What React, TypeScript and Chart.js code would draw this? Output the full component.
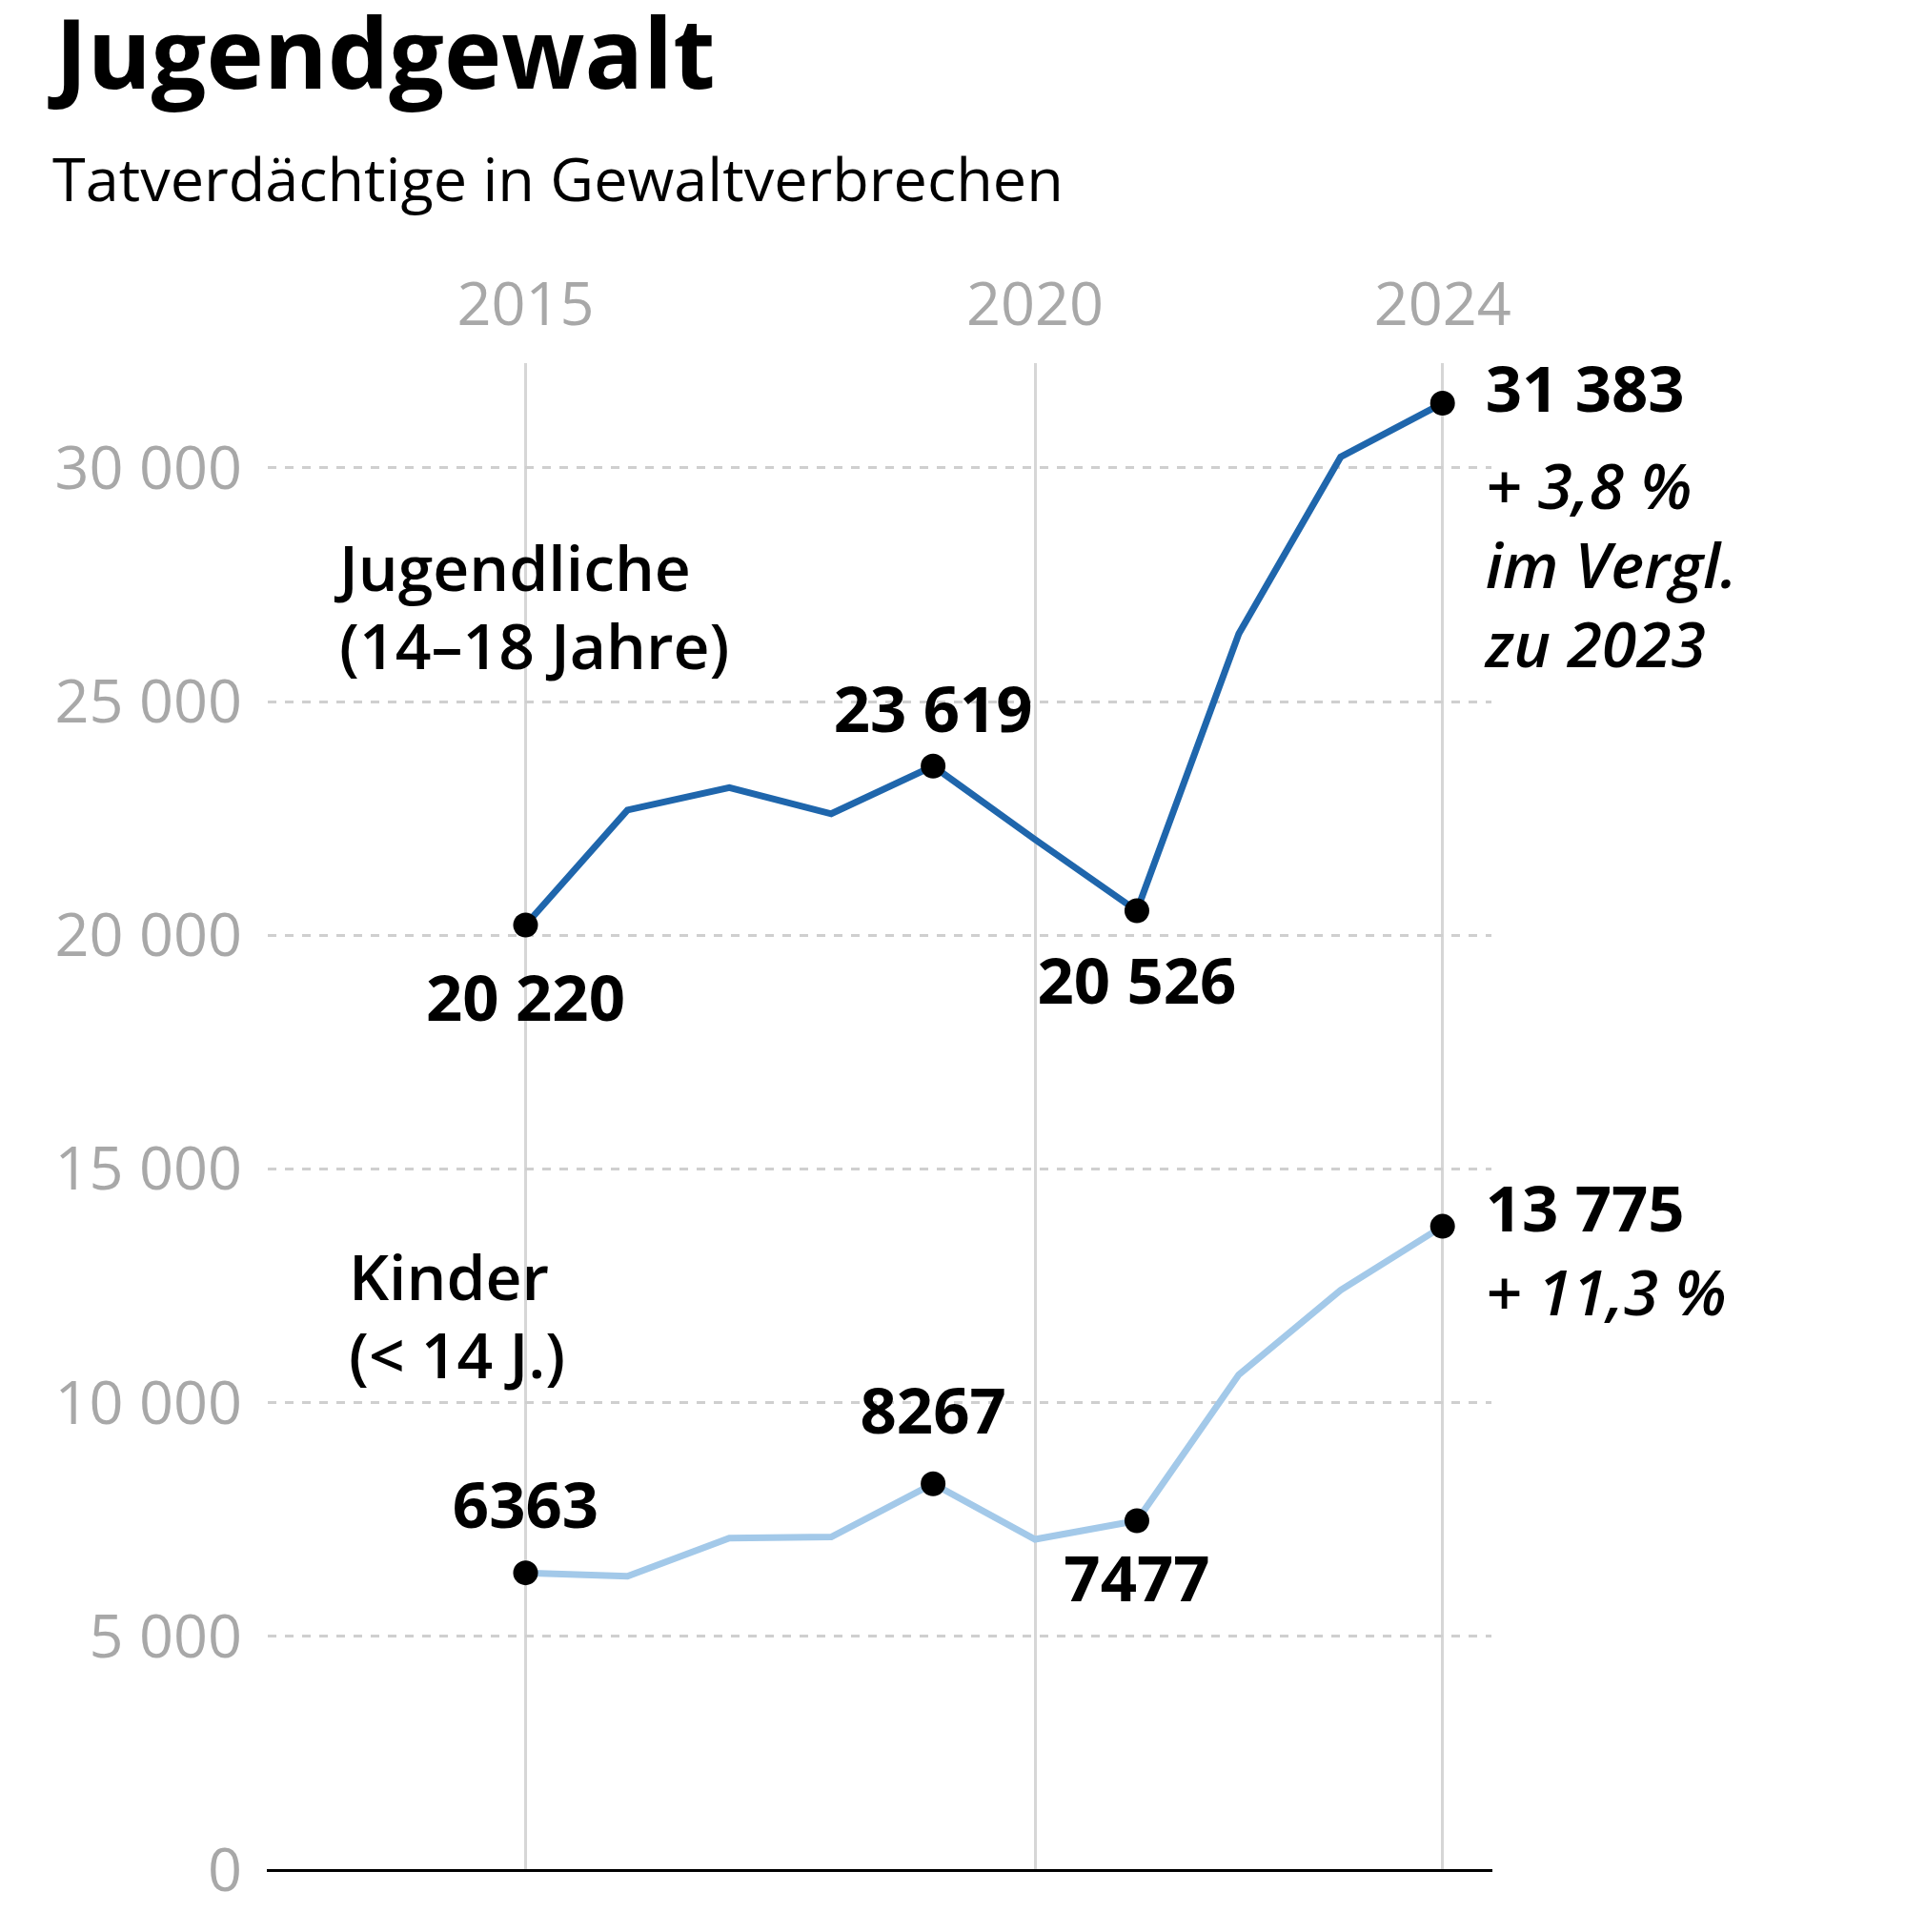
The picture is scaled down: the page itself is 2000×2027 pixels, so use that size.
import React, { useEffect, useRef } from "react";
import { Chart, registerables } from "chart.js";

Chart.register(...registerables);

// ---------- data ----------
const years = [2015, 2016, 2017, 2018, 2019, 2020, 2021, 2022, 2023, 2024];
const jugendliche = [20220, 22680, 23160, 22600, 23619, 22050, 20526, 26450, 30234, 31383];
const kinder = [6363, 6290, 7105, 7130, 8267, 7080, 7477, 10600, 12410, 13775];
const markedYears = [2015, 2019, 2021, 2024];
const xTickYears = [2015, 2020, 2024];
const yTickValues = [0, 5000, 10000, 15000, 20000, 25000, 30000];
const yTickLabels = ["0", "5 000", "10 000", "15 000", "20 000", "25 000", "30 000"];
const titleText = "Jugendgewalt";
const subtitleText = "Tatverdächtige in Gewaltverbrechen";
const jugendName = ["Jugendliche", "(14–18 Jahre)"];
const kinderName = ["Kinder", "(< 14 J.)"];
const jugendNote = ["+ 3,8 %", "im Vergl.", "zu 2023"];
const kinderNote = ["+ 11,3 %"];

const FONT = "'Open Sans', 'Noto Sans', sans-serif";
const W = 2000;
const H = 2027;

function fmt(v: number): string {
  if (v >= 10000) {
    const s = String(v);
    return s.slice(0, s.length - 3) + " " + s.slice(s.length - 3);
  }
  return String(v);
}

const overlayPlugin = {
  id: "overlay",
  afterDatasetsDraw(chart: any) {
    const ctx = chart.ctx as CanvasRenderingContext2D;
    const xs = chart.scales.x;
    const ys = chart.scales.y;
    ctx.save();
    ctx.fillStyle = "#000";
    ctx.textBaseline = "alphabetic";

    // title & subtitle
    ctx.textAlign = "left";
    ctx.font = `bold 102px ${FONT}`;
    ctx.fillText(titleText, 58, 93);
    ctx.font = `63px ${FONT}`;
    ctx.fillText(subtitleText, 55, 211);

    const px = (yr: number) => xs.getPixelForValue(yr);
    const py = (v: number) => ys.getPixelForValue(v);
    const idx = (yr: number) => years.indexOf(yr);

    ctx.textBaseline = "middle";
    const bold = `bold 67px ${FONT}`;
    const semi = `600 66px ${FONT}`;
    const ital = `italic 600 66px ${FONT}`;

    // value labels, Jugendliche
    ctx.font = bold;
    ctx.textAlign = "center";
    [2015, 2019, 2021].forEach((yr) => {
      const v = jugendliche[idx(yr)];
      const dy = yr === 2019 ? -55 : yr === 2015 ? 81 : 78;
      ctx.fillText(fmt(v), px(yr), py(v) + dy);
    });
    ctx.textAlign = "left";
    {
      const v = jugendliche[idx(2024)];
      ctx.fillText(fmt(v), px(2024) + 45, py(v) - 10);
      ctx.font = ital;
      jugendNote.forEach((t, i) => ctx.fillText(t, px(2024) + 45, py(v) + 92 + i * 83));
    }

    // value labels, Kinder
    ctx.font = bold;
    ctx.textAlign = "center";
    [2015, 2019, 2021].forEach((yr) => {
      const v = kinder[idx(yr)];
      const dy = yr === 2021 ? 65 : yr === 2019 ? -72 : -66;
      ctx.fillText(fmt(v), px(yr), py(v) + dy);
    });
    ctx.textAlign = "left";
    {
      const v = kinder[idx(2024)];
      ctx.fillText(fmt(v), px(2024) + 45, py(v) - 14);
      ctx.font = ital;
      kinderNote.forEach((t, i) => ctx.fillText(t, px(2024) + 45, py(v) + 75 + i * 83));
    }

    // series names
    ctx.font = semi;
    ctx.textAlign = "left";
    jugendName.forEach((t, i) => ctx.fillText(t, 356, py(27760) + i * 82));
    kinderName.forEach((t, i) => ctx.fillText(t, 366, py(12580) + i * 82));

    ctx.restore();
  },
};

export default function App() {
  const ref = useRef<HTMLCanvasElement | null>(null);

  useEffect(() => {
    if (!ref.current) return;
    const chart = new Chart(ref.current, {
      type: "line",
      data: {
        datasets: [
          {
            label: "Jugendliche",
            data: years.map((y, i) => ({ x: y, y: jugendliche[i] })),
            borderColor: "#1f66ac",
            borderWidth: 7,
            pointRadius: (c: any) => (markedYears.includes(years[c.dataIndex]) ? 13 : 0),
            pointBackgroundColor: "#000",
            pointBorderWidth: 0,
            tension: 0,
            xAxisID: "x",
          },
          {
            label: "Kinder",
            data: years.map((y, i) => ({ x: y, y: kinder[i] })),
            borderColor: "#a3c9e9",
            borderWidth: 7,
            pointRadius: (c: any) => (markedYears.includes(years[c.dataIndex]) ? 13 : 0),
            pointBackgroundColor: "#000",
            pointBorderWidth: 0,
            tension: 0,
            xAxisID: "x",
          },
        ],
      },
      options: {
        animation: false,
        responsive: false,
        devicePixelRatio: 1,
        events: [],
        layout: { padding: { left: 0, top: 250, right: 435, bottom: 61 } },
        plugins: { legend: { display: false }, tooltip: { enabled: false }, title: { display: false } },
        scales: {
          x: {
            type: "linear",
            position: "top",
            min: 2012.47,
            max: 2024.48,
            afterBuildTicks: (s: any) => {
              s.ticks = xTickYears.map((v) => ({ value: v }));
            },
            afterFit: (s: any) => {
              s.height = 131;
            },
            grid: { color: "#d6d6d6", lineWidth: 3, drawTicks: false },
            border: { display: false },
            ticks: {
              color: "#a8a8a8",
              font: { family: FONT, size: 63 },
              padding: 20,
              maxRotation: 0,
              autoSkip: false,
              callback: (v: any) => String(v),
            },
          },
          xb: {
            type: "linear",
            position: "bottom",
            min: 2012.47,
            max: 2024.48,
            afterFit: (s: any) => {
              s.height = 0;
            },
            grid: { display: false, drawTicks: false },
            border: { display: true, color: "#000", width: 3 },
            ticks: { display: false },
          },
          y: {
            type: "linear",
            min: 0,
            max: 32240,
            afterBuildTicks: (s: any) => {
              s.ticks = yTickValues.map((v) => ({ value: v }));
            },
            afterFit: (s: any) => {
              s.width = 281;
            },
            grid: {
              color: (c: any) => (c.tick && c.tick.value === 0 ? "rgba(0,0,0,0)" : "#cfcfcf"),
              lineWidth: 3,
              drawTicks: false,
            },
            border: { display: false, dash: [9, 9] },
            ticks: {
              color: "#a8a8a8",
              font: { family: FONT, size: 63 },
              padding: 27,
              labelOffset: 4,
              callback: (v: any) => {
                const i = yTickValues.indexOf(Number(v));
                return i >= 0 ? yTickLabels[i] : "";
              },
            },
          },
        },
      },
      plugins: [overlayPlugin],
    } as any);
    return () => chart.destroy();
  }, []);

  return (
    <div style={{ position: "absolute", left: 0, top: 0, width: W, height: H, background: "#fff" }}>
      <canvas ref={ref} width={W} height={H} style={{ width: W, height: H, display: "block" }} />
    </div>
  );
}
